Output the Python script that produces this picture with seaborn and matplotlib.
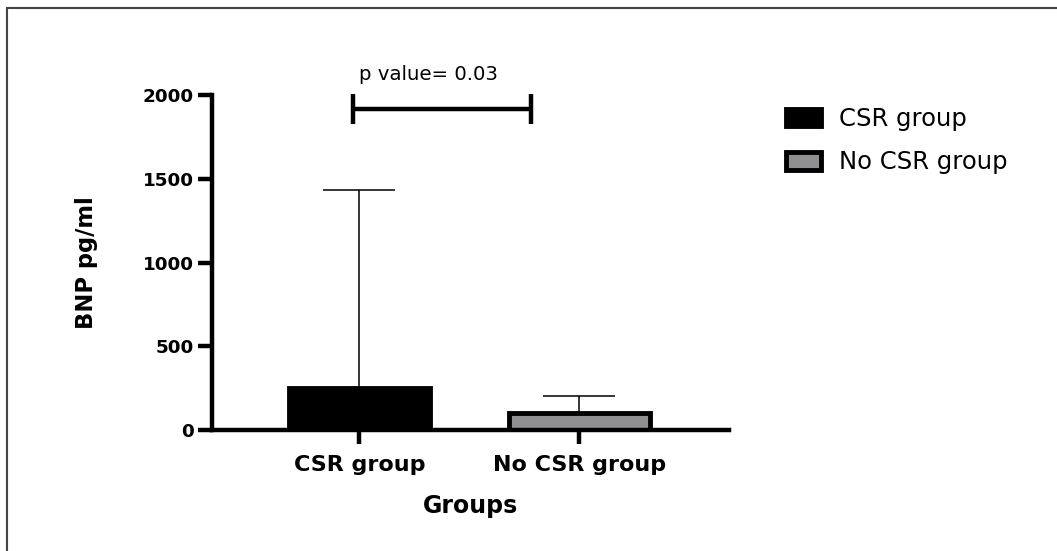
import matplotlib
matplotlib.use("Agg")
import matplotlib.pyplot as plt
from matplotlib.lines import Line2D
import seaborn as sns
import pandas as pd

# ---- data ----
groups = ["CSR group", "No CSR group"]
bnp_mean = [252, 103]
bnp_sd = [1180, 102]
p_text = "p value= 0.03"
y_ticks = [0, 500, 1000, 1500, 2000]
colors = ["#000000", "#8f8f93"]

sns.set_style("white")
plt.rcParams["font.family"] = ["DejaVu Sans"]
plt.rcParams["text.color"] = "black"
plt.rcParams["axes.labelcolor"] = "black"
plt.rcParams["xtick.color"] = "black"
plt.rcParams["ytick.color"] = "black"

W, H = 1057, 551
fig = plt.figure(figsize=(W / 100, H / 100), dpi=100)
ax = fig.add_axes([212 / W, (H - 430) / H, (729 - 212) / W, (430 - 95) / H])

df = pd.DataFrame({"group": groups, "bnp": bnp_mean})
sns.barplot(data=df, x="group", y="bnp", hue="group", palette=colors,
            width=0.64, edgecolor="black", linewidth=3.5, errorbar=None,
            legend=True, ax=ax, zorder=2)

ax.errorbar([0, 1], bnp_mean, yerr=[[0, 0], bnp_sd], fmt="none",
            ecolor="black", elinewidth=1.1, capsize=26, capthick=1.1, zorder=1)

ax.set_xlim(-0.67, 1.68)
ax.set_ylim(0, 2000)
ax.set_yticks(y_ticks)
ax.set_yticklabels([str(t) for t in y_ticks], fontsize=13.2, fontweight="bold")
ax.set_xticks([0, 1])
ax.set_xticklabels(groups, fontsize=16, fontweight="bold")

for s in ["top", "right"]:
    ax.spines[s].set_visible(False)
for s in ["left", "bottom"]:
    ax.spines[s].set_linewidth(3.2)
    ax.spines[s].set_color("black")
    ax.spines[s].set_capstyle("projecting")
ax.tick_params(axis="both", direction="out", length=10, width=3.2, color="black",
               labelcolor="black", bottom=True, left=True)
ax.tick_params(axis="y", pad=3)
ax.tick_params(axis="x", pad=8)

ax.set_xlabel("Groups", fontsize=17, fontweight="bold", labelpad=14, color="black")
ax.set_ylabel("BNP pg/ml", fontsize=16.3, fontweight="bold", labelpad=32, color="black")

# significance bracket
bx0, bx1, by, bh = -0.03, 0.78, 1916, 90
ax.plot([bx0, bx1], [by, by], color="black", lw=3.2, clip_on=False, solid_capstyle="butt")
ax.plot([bx0, bx0], [by - bh, by + bh], color="black", lw=3.2, clip_on=False, solid_capstyle="butt")
ax.plot([bx1, bx1], [by - bh, by + bh], color="black", lw=3.2, clip_on=False, solid_capstyle="butt")
ax.text(0.315, 2120, p_text, ha="center", va="center", fontsize=14.2, color="black",
        clip_on=False)

# legend
leg = ax.legend(loc="upper left", bbox_to_anchor=(786 / W, 1 - 107 / H),
                bbox_transform=fig.transFigure, frameon=False, fontsize=17.5,
                handlelength=1.45, handleheight=0.75, handletextpad=0.75,
                labelspacing=0.8, borderaxespad=0, borderpad=0, labelcolor="black")
for h in leg.legend_handles:
    h.set_edgecolor("black")
    h.set_linewidth(3.5)

# partial image border (top and left)
fig.add_artist(Line2D([7 / W, 1], [1 - 8 / H, 1 - 8 / H], color="#444444", lw=1.5,
                      transform=fig.transFigure))
fig.add_artist(Line2D([7 / W, 7 / W], [0, 1 - 8 / H], color="#444444", lw=1.5,
                      transform=fig.transFigure))

fig.savefig("out.png", dpi=100, facecolor="white")
